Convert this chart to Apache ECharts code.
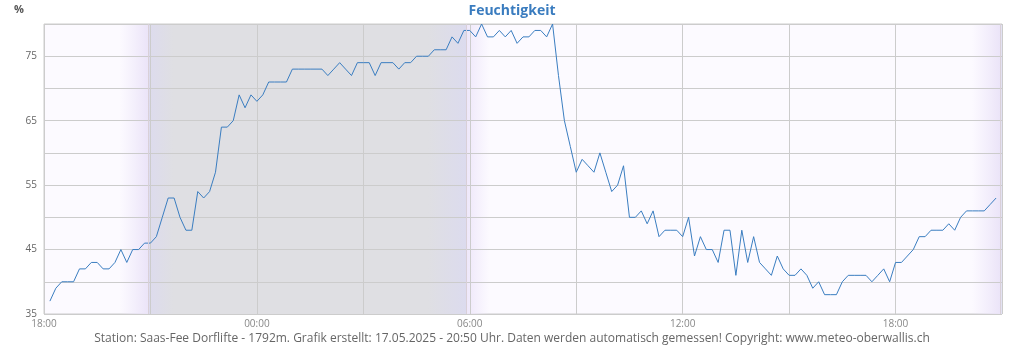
<!DOCTYPE html>
<html>
<head>
<meta charset="utf-8">
<script src="https://cdn.jsdelivr.net/npm/echarts@6/dist/echarts.min.js"></script>
<style>
html,body{margin:0;padding:0;background:#ffffff;}
#c{width:1024px;height:350px;}
</style>
</head>
<body>
<div id="c"></div>
<script>
// Humidity (%) every 10 minutes, first value at 18:10, last at 20:50 next day
const startMinutes = 10;   // minutes after 18:00
const stepMinutes = 10;
const humidity = [
  37,39,40,40,40,42,42,43,43,42,
  42,43,45,43,45,45,46,46,47,50,
  53,53,50,48,48,54,53,54,57,64,
  64,65,69,67,69,68,69,71,71,71,
  71,73,73,73,73,73,73,72,73,74,
  73,72,74,74,74,72,74,74,74,73,
  74,74,75,75,75,76,76,76,78,77,
  79,79,78,80,78,78,79,78,79,77,
  78,78,79,79,78,80,72,65,61,57,
  59,58,57,60,57,54,55,58,50,50,
  51,49,51,47,48,48,48,47,50,44,
  47,45,45,43,48,48,41,48,43,47,
  43,42,41,44,42,41,41,42,41,39,
  40,38,38,38,40,41,41,41,41,40,
  41,42,40,43,43,44,45,47,47,48,
  48,48,49,48,50,51,51,51,51,52,53
];
// hours after 18:00
const sunset1 = 2.93, sunrise = 11.90, sunset2 = 26.95;
const xTickHours = [0, 6, 12, 18, 24];
const xTickLabels = ['18:00', '00:00', '06:00', '12:00', '18:00'];
const yLabelValues = [35, 45, 55, 65, 75];

const title = 'Feuchtigkeit';
const unit = '%';
const footer = 'Station: Saas-Fee Dorflifte - 1792m. Grafik erstellt: 17.05.2025 - 20:50 Uhr. Daten werden automatisch gemessen! Copyright: www.meteo-oberwallis.ch';

const seriesData = humidity.map((v, i) => [(startMinutes + i * stepMinutes) / 60, v]);

function grad(stops) {
  return {type: 'linear', x: 0, y: 0, x2: 1, y2: 0,
    colorStops: stops.map(s => ({offset: s[0], color: s[1]}))};
}
const FONT = '"Open Sans", "DejaVu Sans", sans-serif';

const chart = echarts.init(document.getElementById('c'), null, {renderer: 'canvas'});
chart.setOption({
  animation: false,
  backgroundColor: '#ffffff',
  title: [
    {text: title, left: 'center', top: -1,
      textStyle: {color: '#3a7cbf', fontSize: 14, fontWeight: 'bold', fontFamily: FONT}},
    {text: unit, left: 9, top: -1,
      textStyle: {color: '#555555', fontSize: 11, fontWeight: 'bold', fontFamily: FONT}},
    {text: footer, left: 'center', top: 328,
      textStyle: {color: '#666666', fontSize: 12, fontWeight: 'normal', fontFamily: FONT}}
  ],
  grid: {left: 44, right: 22, top: 24, bottom: 36, show: true,
    backgroundColor: '#fcfaff', borderColor: '#cccccc', borderWidth: 1, z: 0},
  xAxis: {
    type: 'value', min: 0, max: 27, interval: 3, z: 2,
    axisLine: {show: false}, axisTick: {show: false},
    splitLine: {show: true, lineStyle: {color: '#cccccc', width: 1}},
    axisLabel: {
      color: '#888888', fontSize: 10, fontFamily: FONT, margin: 5,
      formatter: v => { const i = xTickHours.indexOf(v); return i >= 0 ? xTickLabels[i] : ''; }
    }
  },
  yAxis: {
    type: 'value', min: 35, max: 80, interval: 5, z: 2,
    axisLine: {show: false}, axisTick: {show: false},
    splitLine: {show: true, lineStyle: {color: '#cccccc', width: 1}},
    axisLabel: {
      color: '#666666', fontSize: 10, fontFamily: FONT, margin: 7,
      formatter: v => yLabelValues.indexOf(v) >= 0 ? String(v) : ''
    }
  },
  series: [
    {
      type: 'line', z: 1, silent: true, symbol: 'none',
      data: seriesData, lineStyle: {opacity: 0},
      markArea: {
        silent: true,
        data: [
          [{xAxis: sunset1 - 0.8, itemStyle: {color: grad([[0, 'rgba(237,230,250,0)'], [1, '#ebe4f8']])}}, {xAxis: sunset1}],
          [{xAxis: sunset1, itemStyle: {color: grad([[0, '#dddbee'], [0.08, '#dfdfe3'], [0.88, '#dfdfe3'], [1, '#dcdbee']])}}, {xAxis: sunrise}],
          [{xAxis: sunrise, itemStyle: {color: grad([[0, '#eee7fa'], [1, 'rgba(238,231,250,0)']])}}, {xAxis: sunrise + 0.65}],
          [{xAxis: sunset2 - 0.8, itemStyle: {color: grad([[0, 'rgba(237,230,250,0)'], [1, '#ebe4f8']])}}, {xAxis: sunset2}],
          [{xAxis: sunset2, itemStyle: {color: '#e3e2f3'}}, {xAxis: 27}]
        ]
      },
      markLine: {
        silent: true, symbol: 'none', label: {show: false},
        lineStyle: {color: '#d9d0d8', width: 1, type: 'solid'},
        data: [{xAxis: sunset1}, {xAxis: sunrise}, {xAxis: sunset2}]
      }
    },
    {
      type: 'line', z: 3, symbol: 'none', showSymbol: false,
      data: seriesData,
      lineStyle: {color: '#3a7dc0', width: 1},
      itemStyle: {color: '#3a7dc0'}
    }
  ]
});
</script>
</body>
</html>
